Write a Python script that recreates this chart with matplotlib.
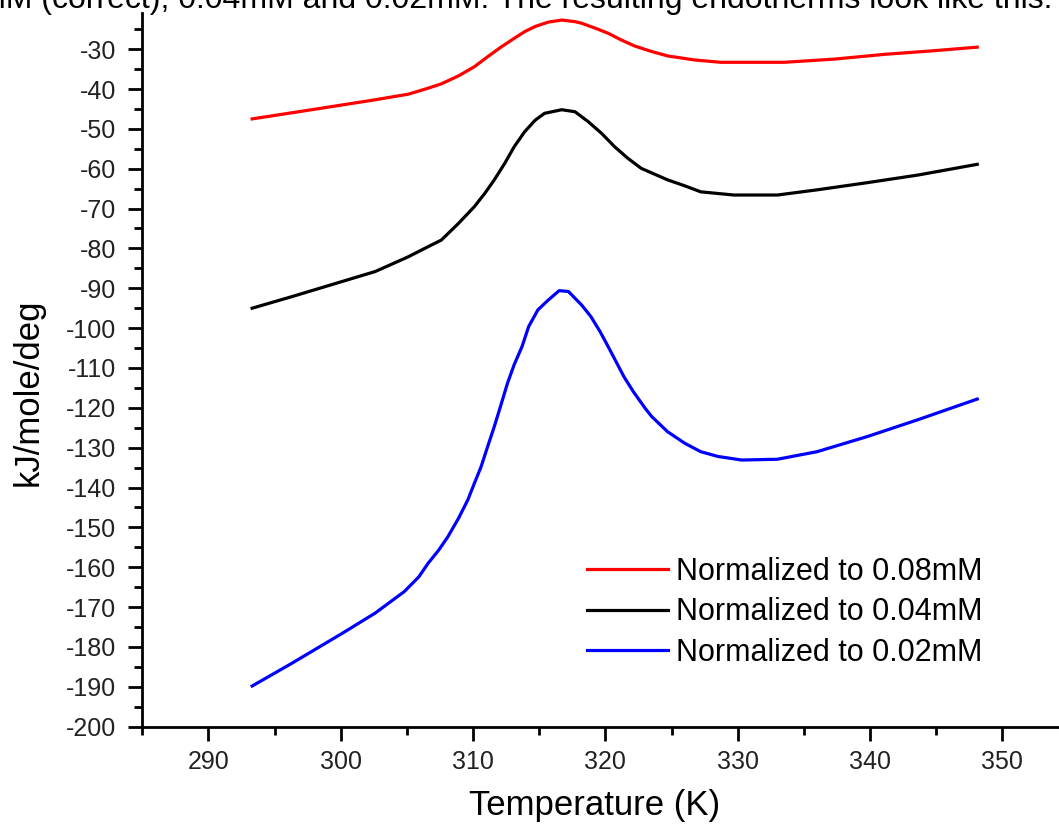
import matplotlib
matplotlib.use("Agg")
import matplotlib.pyplot as plt
from matplotlib.ticker import MultipleLocator

plt.rcParams['font.family'] = ['Liberation Sans', 'DejaVu Sans']
plt.rcParams['axes.unicode_minus'] = False

# --- data ---
temp_red = [293.3, 297.6, 302.6, 305.1, 306.6, 307.6, 308.9, 310.1, 311.1, 312.1,
            313.1, 313.9, 314.7, 315.7, 316.7, 317.7, 318.2, 319.2, 320.2, 321.2,
            322.2, 323.5, 324.7, 326.7, 328.7, 333.5, 337.3, 341.1, 344.8, 348.1]
cp_red = [-47.5, -45.3, -42.7, -41.3, -39.8, -38.7, -36.7, -34.4, -31.9, -29.5,
          -27.3, -25.6, -24.3, -23.2, -22.7, -23.1, -23.5, -24.7, -26.0, -27.7,
          -29.2, -30.6, -31.7, -32.7, -33.3, -33.3, -32.5, -31.3, -30.4, -29.5]

temp_black = [293.3, 296.3, 300.1, 302.6, 305.1, 306.4, 307.6, 308.9, 310.1, 310.9,
              311.6, 312.4, 313.1, 313.9, 314.7, 315.4, 316.7, 317.7, 318.7, 319.7,
              320.7, 321.7, 322.7, 324.7, 326.0, 327.2, 329.7, 333.0, 336.0, 339.8,
              343.6, 348.1]
cp_black = [-95.0, -92.1, -88.3, -85.8, -82.1, -79.9, -77.9, -73.7, -69.5, -66.1,
            -62.8, -58.6, -54.5, -50.7, -47.8, -46.1, -45.2, -45.7, -48.2, -51.1,
            -54.5, -57.4, -59.9, -62.8, -64.3, -65.8, -66.6, -66.6, -65.3, -63.5,
            -61.6, -58.9]

temp_blue = [293.3, 296.3, 300.1, 302.6, 304.8, 305.9, 306.6, 307.4, 308.1, 308.9,
             309.6, 310.1, 310.6, 311.1, 311.6, 312.1, 312.6, 313.1, 313.7, 314.2,
             314.9, 315.7, 316.5, 317.2, 317.7, 318.2, 318.9, 319.6, 320.2, 320.8,
             321.4, 322.1, 323.0, 323.5, 324.7, 326.0, 327.2, 328.5, 330.3, 333.0,
             336.0, 339.8, 343.6, 348.1]
cp_blue = [-189.8, -184.1, -176.6, -171.5, -166.1, -162.4, -159.0, -155.7, -152.3, -147.7,
           -143.1, -138.9, -134.8, -129.7, -124.7, -119.3, -113.8, -109.2, -104.6, -99.6,
           -95.4, -92.9, -90.6, -90.8, -92.5, -94.2, -97.1, -100.9, -104.6, -108.4,
           -112.2, -115.9, -120.1, -122.2, -126.0, -128.9, -131.0, -132.2, -133.1, -132.9,
           -131.0, -127.2, -123.0, -117.8]

series_labels = ["Normalized to 0.08mM", "Normalized to 0.04mM", "Normalized to 0.02mM"]

fig = plt.figure(figsize=(10.59, 8.25), dpi=100)
ax = fig.add_axes([0.1344, 0.1192, 0.8746, 0.8647])

ax.plot(temp_red, cp_red, color='#ff0000', lw=2.3, label=series_labels[0])
ax.plot(temp_black, cp_black, color='black', lw=2.3, label=series_labels[1])
ax.plot(temp_blue, cp_blue, color='#0000ff', lw=2.3, label=series_labels[2])

ax.set_xlim(285, 355)
ax.set_ylim(-200, -21)
ax.xaxis.set_major_locator(MultipleLocator(10))
ax.xaxis.set_minor_locator(MultipleLocator(5))
ax.yaxis.set_minor_locator(MultipleLocator(5))
ax.set_yticks(range(-200, -29, 10))

for side in ['top', 'right']:
    ax.spines[side].set_visible(False)
for side in ['left', 'bottom']:
    ax.spines[side].set_linewidth(2.0)

ax.tick_params(which='major', direction='out', length=10, width=2.0,
               labelsize=18, labelcolor='#222222')
ax.tick_params(which='minor', direction='out', length=5.5, width=2.0)
ax.tick_params(axis='y', which='major', pad=9)
ax.tick_params(axis='x', which='major', pad=7)

fig.text(595 / 1059, 1 - 805 / 825, "Temperature (K)", fontsize=25,
         ha='center', va='center')
fig.text(28 / 1059, 1 - 392 / 825, "kJ/mole/deg", fontsize=25,
         ha='center', va='center', rotation=90)

# cropped line of the surrounding document text (cut at the top, as in the source)
fig.text(1052 / 1059, 1 - 8 / 825,
         "0.08mM (correct), 0.04mM and 0.02mM. The resulting endotherms look like this.",
         fontsize=23, ha='right', va='baseline')

ax.legend(loc='upper left', bbox_to_anchor=(586.7 / 1059, 1 - 557 / 825),
          bbox_transform=fig.transFigure, frameon=False, fontsize=22,
          handlelength=2.67, handletextpad=0.25, labelspacing=0.34,
          borderpad=0, borderaxespad=0)

fig.savefig("out.png", dpi=100)
